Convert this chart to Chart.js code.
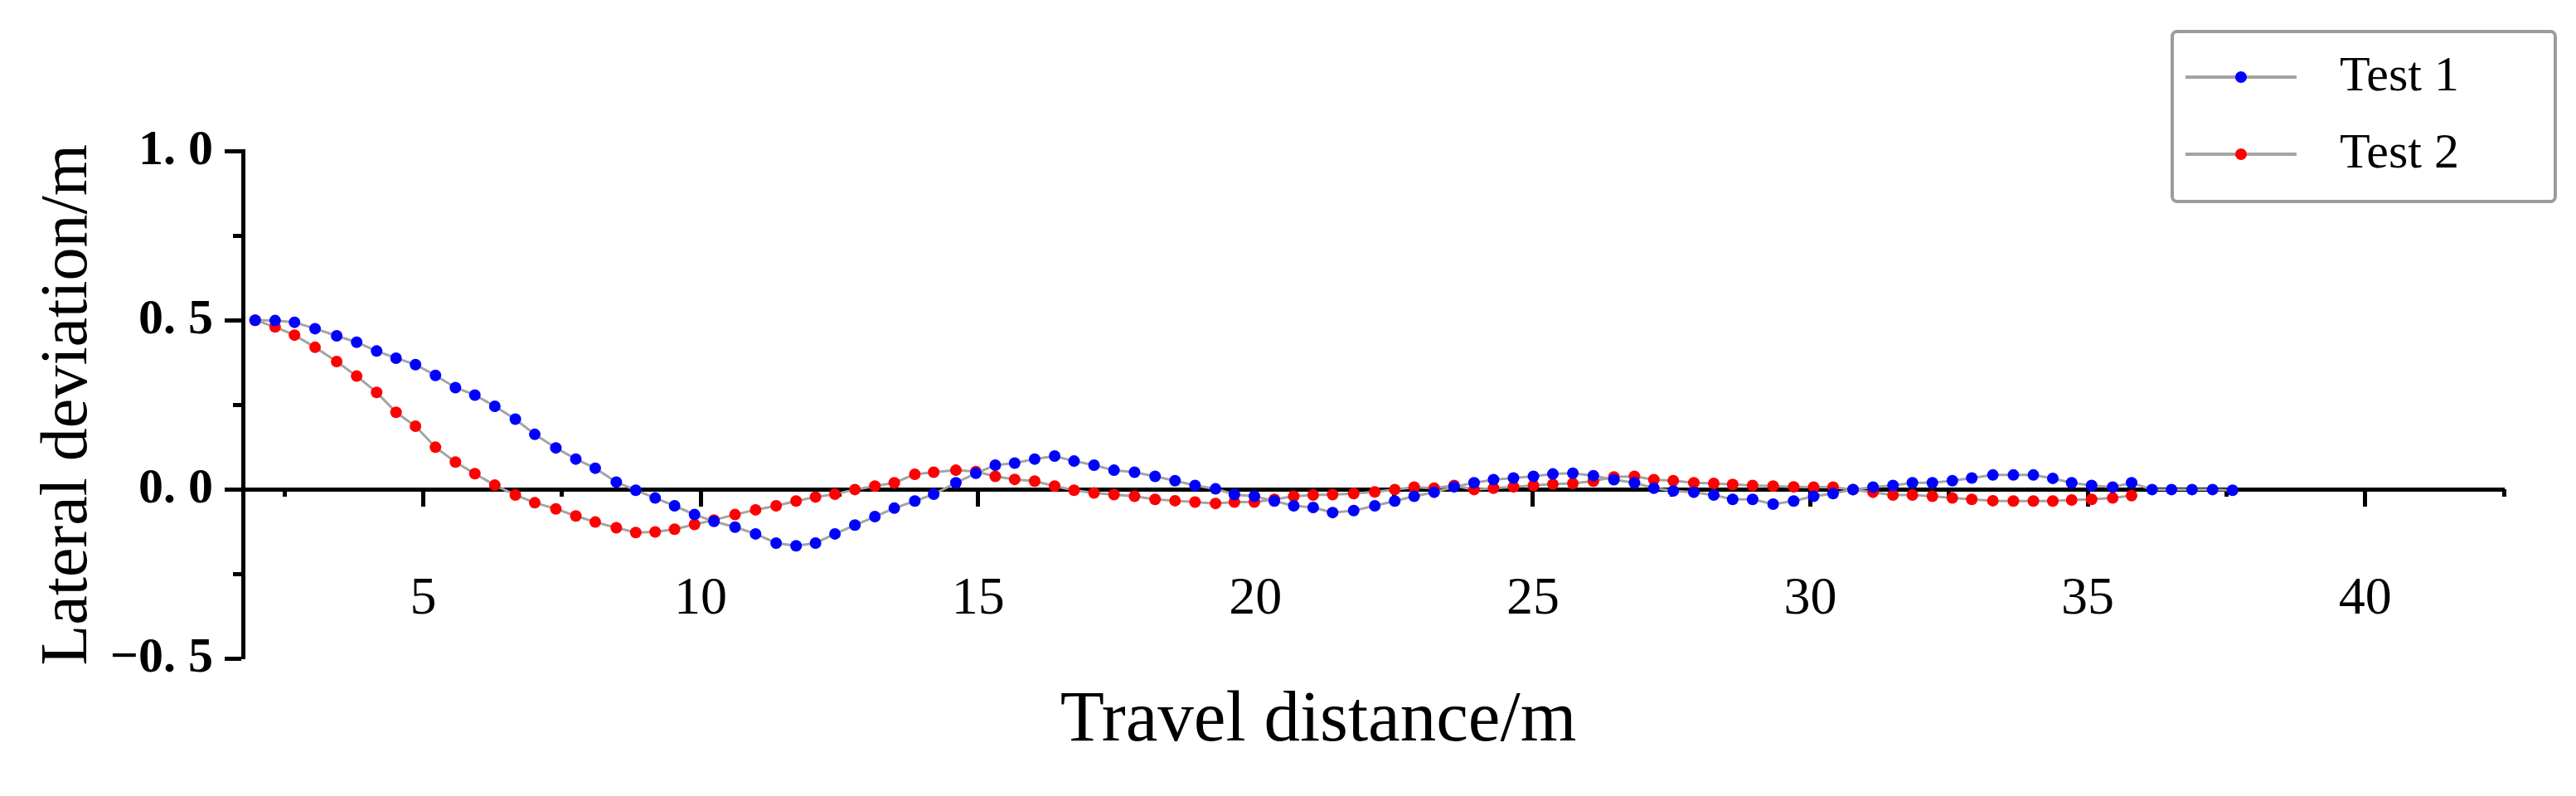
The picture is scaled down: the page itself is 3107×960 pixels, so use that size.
<!DOCTYPE html>
<html>
<head>
<meta charset="utf-8">
<script src="https://cdn.jsdelivr.net/npm/chart.js@4.4.1/dist/chart.umd.min.js"></script>
<style>
  html, body { margin: 0; padding: 0; background: #ffffff; }
  #wrap { width: 3107px; height: 960px; position: relative; }
</style>
</head>
<body>
<div id="wrap"><canvas id="c"></canvas></div>
<script>
// ---------------- data ----------------
const distance = [
  1.97, 2.33, 2.68, 3.05, 3.44, 3.80, 4.16, 4.51, 4.86, 5.22,
  5.58, 5.93, 6.29, 6.66, 7.01, 7.39, 7.75, 8.10, 8.48, 8.83,
  9.18, 9.53, 9.89, 10.24, 10.62, 10.99, 11.36, 11.72, 12.07, 12.42,
  12.78, 13.14, 13.49, 13.86, 14.20, 14.60, 14.96, 15.31, 15.66, 16.02,
  16.38, 16.73, 17.09, 17.45, 17.82, 18.19, 18.55, 18.91, 19.28, 19.62,
  19.98, 20.34, 20.69, 21.04, 21.39, 21.77, 22.15, 22.51, 22.86, 23.22,
  23.58, 23.94, 24.29, 24.65, 25.01, 25.36, 25.72, 26.09, 26.46, 26.83,
  27.18, 27.53, 27.90, 28.26, 28.60, 28.96, 29.33, 29.70, 30.06, 30.41,
  30.77, 31.13, 31.49, 31.84, 32.20, 32.56, 32.91, 33.29, 33.66, 34.02,
  34.37, 34.71, 35.07, 35.45, 35.79, 36.16, 36.51, 36.88, 37.25, 37.61
];
const test1 = [
  0.500, 0.499, 0.494, 0.475, 0.454, 0.435, 0.409, 0.388, 0.369, 0.337,
  0.301, 0.279, 0.246, 0.208, 0.163, 0.123, 0.090, 0.063, 0.022, -0.002,
  -0.025, -0.048, -0.074, -0.094, -0.111, -0.131, -0.158, -0.166, -0.158, -0.131,
  -0.105, -0.080, -0.055, -0.034, -0.014, 0.020, 0.048, 0.072, 0.078, 0.090,
  0.099, 0.084, 0.072, 0.057, 0.051, 0.039, 0.026, 0.012, 0.002, -0.015,
  -0.020, -0.034, -0.048, -0.053, -0.068, -0.062, -0.048, -0.034, -0.020, -0.008,
  0.008, 0.020, 0.029, 0.034, 0.039, 0.046, 0.048, 0.041, 0.029, 0.020,
  0.004, -0.004, -0.008, -0.016, -0.029, -0.029, -0.043, -0.034, -0.020, -0.012,
  0.000, 0.007, 0.012, 0.020, 0.020, 0.026, 0.034, 0.043, 0.043, 0.043,
  0.033, 0.020, 0.012, 0.007, 0.020, 0.000, 0.000, 0.000, 0.000, -0.002
];
const test2 = [
  0.500, 0.480, 0.456, 0.420, 0.378, 0.335, 0.287, 0.228, 0.187, 0.125,
  0.081, 0.047, 0.013, -0.016, -0.039, -0.057, -0.078, -0.096, -0.113, -0.127,
  -0.125, -0.117, -0.103, -0.090, -0.074, -0.060, -0.048, -0.034, -0.022, -0.014,
  0.000, 0.010, 0.020, 0.045, 0.051, 0.057, 0.053, 0.039, 0.030, 0.025,
  0.010, -0.002, -0.010, -0.015, -0.020, -0.029, -0.033, -0.037, -0.041, -0.037,
  -0.037, -0.029, -0.020, -0.016, -0.015, -0.012, -0.007, 0.000, 0.007, 0.004,
  0.012, 0.000, 0.004, 0.008, 0.012, 0.016, 0.018, 0.025, 0.037, 0.039,
  0.029, 0.026, 0.020, 0.018, 0.015, 0.012, 0.010, 0.008, 0.007, 0.007,
  0.000, -0.008, -0.016, -0.016, -0.020, -0.025, -0.029, -0.033, -0.034, -0.034,
  -0.034, -0.031, -0.029, -0.025, -0.018
];
const seriesNames = ['Test 1', 'Test 2'];
const seriesColors = ['#0000ff', '#ff0000'];

const xMajorTicks = [5, 10, 15, 20, 25, 30, 35, 40];
const xTickLabels = ['5', '10', '15', '20', '25', '30', '35', '40'];
const xMinorTicks = [2.5, 7.5, 12.5, 17.5, 22.5, 27.5, 32.5, 37.5, 42.5];
const yMajorTicks = [-0.5, 0, 0.5, 1.0];
const yTickLabels = ['\u22120. 5', '0. 0', '0. 5', '1. 0'];
const yMinorTicks = [-0.25, 0.25, 0.75];
const xRange = [1.75, 42.5];
const yRange = [-0.5, 1.0];

const xTitle = 'Travel distance/m';
const yTitle = 'Lateral deviation/m';

// ---------------- styling ----------------
const SERIF = "'Liberation Serif', 'Times New Roman', serif";
const LINE_GREY = '#a4a4a4';
const MARKER_W = 1300;

function makeMarker(color) {
  const c = document.createElement('canvas');
  c.width = MARKER_W; c.height = 18;
  const g = c.getContext('2d');
  g.strokeStyle = LINE_GREY; g.lineWidth = 4;
  g.beginPath(); g.moveTo(MARKER_W - 156, 9); g.lineTo(MARKER_W - 22, 9); g.stroke();
  g.fillStyle = color;
  g.beginPath(); g.arc(MARKER_W - 89, 9, 7, 0, Math.PI * 2); g.fill();
  return c;
}
const markers = seriesColors.map(makeMarker);

// adjusts boxes after Chart.js layout: legend overlaps the plot top, y labels unclipped
const layoutTweak = {
  id: 'layoutTweak',
  afterLayout(chart) {
    const lg = chart.legend;
    if (lg) {
      lg.left -= 21; lg.right -= 21;
      lg.height = 215; lg.bottom = lg.top + lg.height;
    }
    const ys = chart.scales.y;
    if (ys) { ys.left = 0; }
  }
};

const legendFrame = {
  id: 'legendFrame',
  afterDraw(chart) {
    const lg = chart.legend;
    if (!lg) return;
    const ctx = chart.ctx;
    const l = lg.right - 379, r = lg.right + 83, t = lg.top + 8, b = lg.top + 213;
    ctx.save();
    ctx.strokeStyle = '#9c9c9c';
    ctx.lineWidth = 4;
    ctx.beginPath();
    ctx.roundRect(l, t, r - l, b - t, 6);
    ctx.stroke();
    ctx.restore();
  }
};

const pts = (ys) => ys.map((v, i) => ({ x: distance[i], y: v }));

const datasets = [test1, test2].map((ys, i) => ({
  label: seriesNames[i],
  data: pts(ys),
  showLine: true,
  borderColor: LINE_GREY,
  borderWidth: 3,
  pointRadius: 7,
  pointHoverRadius: 7,
  pointBorderWidth: 0,
  pointBackgroundColor: seriesColors[i],
  pointBorderColor: seriesColors[i],
  tension: 0,
  xAxisID: 'x',
  yAxisID: 'y'
}));

new Chart(document.getElementById('c'), {
  type: 'scatter',
  data: { datasets },
  plugins: [layoutTweak, legendFrame],
  options: {
    responsive: true,
    maintainAspectRatio: false,
    animation: false,
    events: [],
    layout: { padding: { top: 30, left: 160, right: 87, bottom: 0 } },
    plugins: {
      tooltip: { enabled: false },
      legend: {
        display: true,
        position: 'top',
        align: 'end',
        maxHeight: 152,
        labels: {
          usePointStyle: true,
          pointStyleWidth: MARKER_W,
          padding: 33,
          color: '#000',
          font: { family: SERIF, size: 60 },
          generateLabels: (chart) => chart.data.datasets.map((ds, i) => ({
            text: ds.label,
            pointStyle: markers[i],
            fillStyle: seriesColors[i],
            strokeStyle: seriesColors[i],
            lineWidth: 0,
            hidden: false,
            datasetIndex: i
          }))
        }
      },
      title: {
        display: true,
        position: 'bottom',
        text: xTitle,
        color: '#000',
        font: { family: SERIF, size: 87, weight: 'normal' },
        padding: { top: 23, bottom: 38 }
      }
    },
    scales: {
      x: {
        type: 'linear', axis: 'x',
        position: { y: 0 },
        min: xRange[0], max: xRange[1],
        afterBuildTicks: (s) => { s.ticks = xMajorTicks.map(v => ({ value: v })); },
        afterFit: (s) => { s.height = 0; },
        ticks: {
          autoSkip: false, maxRotation: 0, minRotation: 0,
          padding: 76, color: '#000',
          font: { family: SERIF, size: 64 },
          callback: (v, i) => xTickLabels[i]
        },
        grid: { drawOnChartArea: false, drawTicks: true, tickLength: 18, tickWidth: 5, tickColor: '#000' },
        border: { display: true, color: '#000', width: 5 }
      },
      xMinor: {
        type: 'linear', axis: 'x',
        position: { y: 0 },
        min: xRange[0], max: xRange[1],
        afterBuildTicks: (s) => { s.ticks = xMinorTicks.map(v => ({ value: v })); },
        afterFit: (s) => { s.height = 0; },
        ticks: { display: false },
        grid: { drawOnChartArea: false, drawTicks: true, tickLength: 9, tickWidth: 5, tickColor: '#000' },
        border: { display: false }
      },
      y: {
        type: 'linear', axis: 'y',
        position: 'left',
        min: yRange[0], max: yRange[1],
        afterBuildTicks: (s) => { s.ticks = yMajorTicks.map(v => ({ value: v })); },
        afterFit: (s) => { s.width = 133; },
        ticks: {
          autoSkip: false, padding: 14, color: '#000',
          font: { family: SERIF, size: 60, weight: 'bold' },
          callback: (v, i) => yTickLabels[i]
        },
        grid: { drawOnChartArea: false, drawTicks: true, tickLength: 22, tickWidth: 5, tickColor: '#000' },
        border: { display: true, color: '#000', width: 5 },
        title: {
          display: true, text: yTitle, color: '#000',
          font: { family: SERIF, size: 80, weight: 'normal' },
          padding: { top: 35, bottom: 0 }
        }
      },
      yMinor: {
        type: 'linear', axis: 'y',
        position: { x: xRange[0] },
        min: yRange[0], max: yRange[1],
        afterBuildTicks: (s) => { s.ticks = yMinorTicks.map(v => ({ value: v })); },
        afterFit: (s) => { s.width = 0; },
        ticks: { display: false },
        grid: { drawOnChartArea: false, drawTicks: true, tickLength: 12, tickWidth: 5, tickColor: '#000' },
        border: { display: false }
      }
    }
  }
});
</script>
</body>
</html>
